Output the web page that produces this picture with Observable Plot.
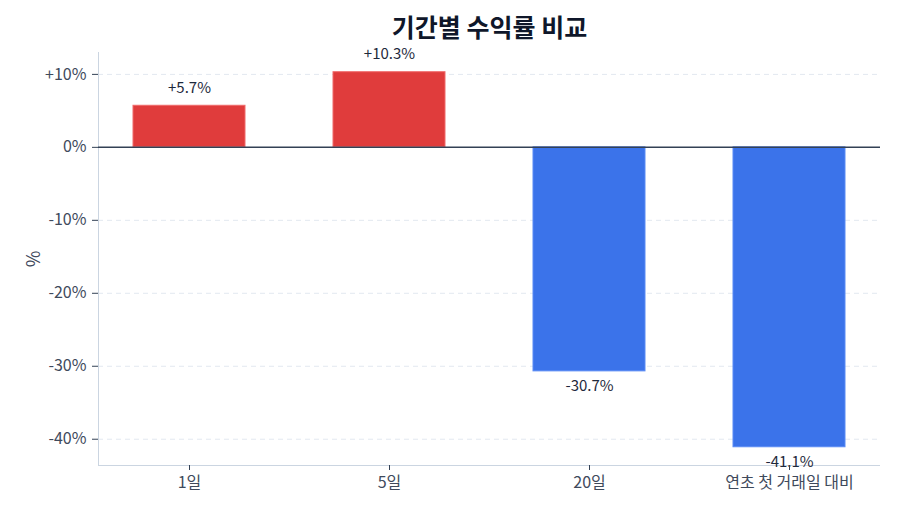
<!DOCTYPE html>
<html>
<head>
<meta charset="utf-8">
<script src="https://cdn.jsdelivr.net/npm/d3@7"></script>
<script src="https://cdn.jsdelivr.net/npm/@observablehq/plot@0.6"></script>
<style>
  html, body { margin: 0; padding: 0; background: #fff; }
  #chart svg { display: block; }
</style>
</head>
<body>
<div id="chart"></div>
<script>
const categories = ["1일", "5일", "20일", "연초 첫 거래일 대비"];
const returns = [5.7, 10.3, -30.7, -41.1];
const yTicks = [10, 0, -10, -20, -30, -40];
const title = "기간별 수익률 비교";

const data = categories.map((c, i) => ({ period: c, value: returns[i] }));
const fmt = v => (v > 0 ? "+" : "") + v + "%";
const fmtLabel = v => (v > 0 ? "+" : "") + v.toFixed(1) + "%";
const yMin = -43.6, yMax = 13;

const chart = Plot.plot({
  width: 900,
  height: 514,
  marginTop: 52,
  marginBottom: 49,
  marginLeft: 98,
  marginRight: 20,
  style: { fontFamily: "'Noto Sans CJK KR', 'Noto Sans', sans-serif", fontSize: "16px", color: "#3f4a5c", background: "#fff" },
  x: { domain: categories, paddingInner: 0.44, paddingOuter: 0.175 },
  y: { domain: [yMin, yMax] },
  marks: [
    Plot.gridY(yTicks.filter(t => t !== 0), { stroke: "#e2e8f0", strokeOpacity: 1, strokeDasharray: "5,4" }),
    Plot.frame({ anchor: "left", stroke: "#cbd5e1" }),
    Plot.ruleY([yMin], { stroke: "#cbd5e1" }),
    Plot.barY(data, { x: "period", y: "value", fill: d => d.value >= 0 ? "#e03c3c" : "#3b73ea", stroke: d => d.value >= 0 ? "#f06a6a" : "#5b8cf5", strokeWidth: 1 }),
    Plot.ruleY([0], { stroke: "#334155", strokeWidth: 1.5 }),
    Plot.text(data.filter(d => d.value >= 0), { x: "period", y: "value", text: d => fmtLabel(d.value), dy: -18, fill: "#1e293b", fontSize: 15 }),
    Plot.text(data.filter(d => d.value < 0), { x: "period", y: "value", text: d => fmtLabel(d.value), dy: 15, fill: "#1e293b", fontSize: 15 }),
    Plot.axisY(yTicks, { tickFormat: fmt, tickSize: 6, tickPadding: 6, stroke: "#334155", fill: "#3f4a5c", fontSize: 16, label: null }),
    Plot.axisY({ ticks: [], tickSize: 0, label: "%", labelAnchor: "center", labelArrow: "none", labelOffset: 71, fontSize: 18, fill: "#3f4a5c" }),
    Plot.axisX({ tickSize: 5, tickPadding: 6, stroke: "#334155", fill: "#3f4a5c", fontSize: 16, label: null }),
    Plot.text([title], { frameAnchor: "top", lineAnchor: "middle", dy: -24, fontSize: 25, fontWeight: "bold", fill: "#0f172a" })
  ]
});
document.getElementById("chart").appendChild(chart);
</script>
</body>
</html>
